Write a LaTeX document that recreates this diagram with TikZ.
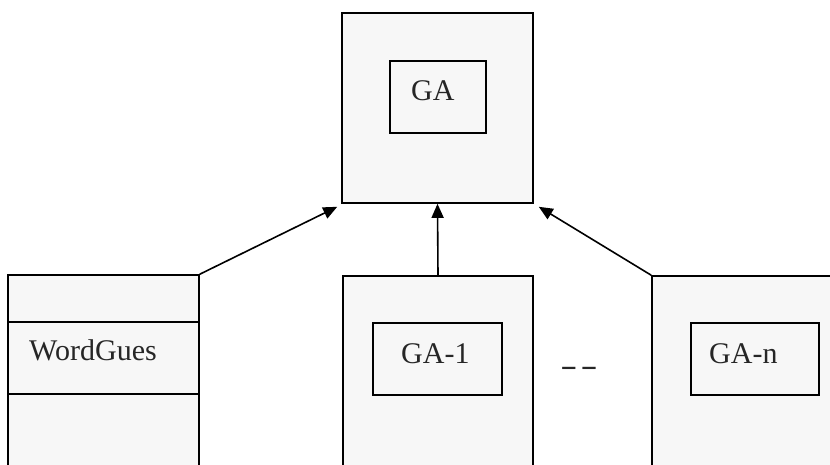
\documentclass[tikz,border=0pt]{standalone}
\usepackage{fontspec}
\setmainfont{Liberation Serif}
\usetikzlibrary{positioning, arrows.meta}

\begin{document}
\begin{tikzpicture}[x=1pt, y=-1pt, >={Triangle[length=14pt, width=12pt]},
        box/.style={draw, line width=1.6pt, fill=black!3, inner sep=0pt},
        lbl/.style={font=\fontsize{30}{34}\selectfont, inner sep=0pt, text=black!85},
        link/.style={->, line width=1.6pt}]

    \useasboundingbox (0,0) rectangle (830,464);
    \clip (0,0) rectangle (830,464);

    % --- Outer boxes ---
    \node[box, minimum width=191pt, minimum height=190pt] (top) at (437.5,108) {};
    \node[box, minimum width=191pt, minimum height=245pt] (lb)  at (103.5,397.5) {};
    \node[box, minimum width=190pt, minimum height=244pt] (mb)  at (438,398) {};
    \node[box, minimum width=248pt, minimum height=244pt] (rb)  at (776,398) {};

    % --- Inner boxes ---
    \node[box, minimum width=96pt,  minimum height=72pt] (ga)  at (438,97) {};
    \node[box, minimum width=129pt, minimum height=72pt] (ga1) at (437.5,359) {};
    \node[box, minimum width=128pt, minimum height=72pt] (gan) at (755,359) {};
    \draw[line width=1.6pt] ([yshift=-48pt]lb.north west) -- ([yshift=-48pt]lb.north east);
    \draw[line width=1.6pt] ([yshift=-120pt]lb.north west) -- ([yshift=-120pt]lb.north east);

    % --- Labels ---
    \node[lbl, anchor=base west] (tga)  at (411,100) {GA};
    \node[lbl, anchor=base west] (tga1) at (401,363) {GA-1};
    \node[lbl, anchor=base west] (tgan) at (709,363) {GA-n};
    \node[lbl, anchor=base west] (twg)  at (29,360)  {WordGues};
    \node[lbl, xscale=1.7, transform shape] (dots) at (579,371) {-\kern2pt-};

    % --- Arrows ---
    \draw[link] (lb.north east) -- ([xshift=-4pt, yshift=-3pt]top.south west);
    \draw[link] (mb.north) -- (top.south);
    \draw[link] (rb.north west) -- ([xshift=5pt, yshift=-3pt]top.south east);

\end{tikzpicture}
\end{document}
